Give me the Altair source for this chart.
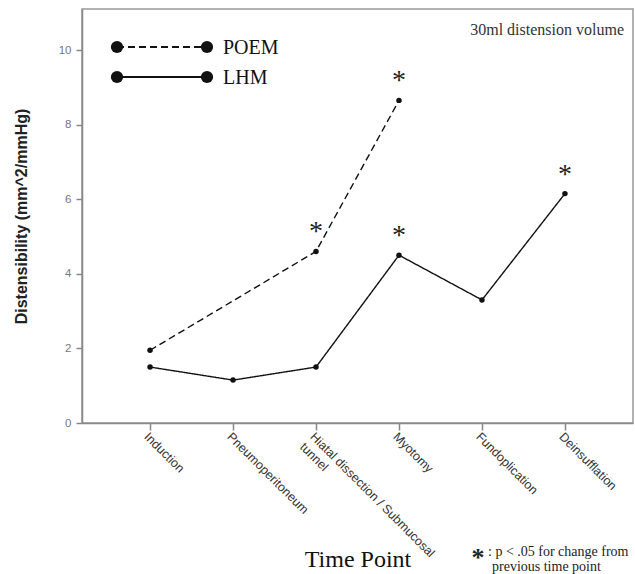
import altair as alt
import pandas as pd

# ---- data ----
time_points = ["Induction", "Pneumoperitoneum", "Hiatal dissection / Submucosal tunnel",
               "Myotomy", "Fundoplication", "Deinsufflation"]
poem_values = [1.95, None, 4.6, 8.65, None, None]
lhm_values = [1.5, 1.15, 1.5, 4.5, 3.3, 6.15]
poem_sig = [False, False, True, True, False, False]
lhm_sig = [False, False, False, True, False, True]
series_names = ["POEM", "LHM"]

rows = []
for name, vals, sig in [("POEM", poem_values, poem_sig), ("LHM", lhm_values, lhm_sig)]:
    for t, v, s in zip(time_points, vals, sig):
        if v is not None:
            rows.append({"time": t, "value": v, "series": name, "sig": s})
df = pd.DataFrame(rows)

SERIF = "Liberation Serif"
SANS = "Liberation Sans"

label_expr = ("datum.value == 'Hiatal dissection / Submucosal tunnel' ? "
              "['Hiatal dissection / Submucosal', 'tunnel'] : datum.value")

x_enc = alt.X("time:N", sort=time_points,
              scale=alt.Scale(type="point", padding=0.82),
              axis=alt.Axis(title="Time Point", labelAngle=45, labelAlign="left",
                            labelBaseline="top", labelExpr=label_expr,
                            labelFont=SANS, labelFontSize=12.5, labelColor="#333",
                            labelPadding=0, tickSize=7, tickColor="#888", domainColor="#888",
                            domainWidth=1.5, tickWidth=1.5,
                            titleFont=SERIF, titleFontSize=24, titleFontWeight="normal",
                            titleColor="#111", titleY=124, titleBaseline="top"))
y_enc = alt.Y("value:Q", scale=alt.Scale(domain=[0, 11.1], nice=False),
              axis=alt.Axis(title="Distensibility (mm^2/mmHg)", values=[0, 2, 4, 6, 8, 10],
                            grid=False, labelFont=SANS, labelFontSize=11.5, labelColor="#777",
                            tickSize=6, labelPadding=5, tickColor="#888", domainColor="#888",
                            domainWidth=1.5, tickWidth=1.5,
                            titleFont=SANS, titleFontSize=16, titleFontWeight="bold",
                            titleColor="#222", titlePadding=29))

base = alt.Chart(df).encode(x=x_enc, y=y_enc)

lines = base.mark_line(color="#111", strokeWidth=1.4).encode(
    strokeDash=alt.StrokeDash("series:N", scale=alt.Scale(domain=series_names,
                                                          range=[[7, 4], [1, 0]]), legend=None),
    detail="series:N")
points = base.mark_circle(color="#111", size=30, opacity=1)
stars = base.transform_filter("datum.sig").mark_text(
    text="*", font=SERIF, fontSize=28, color="#222", dy=-19, baseline="middle")

# manual legend (line with dots at both ends)
legend_layers = []
for name, ypix, dash in [("POEM", 38, [7, 4]), ("LHM", 68, [1, 0])]:
    ld = alt.Chart(pd.DataFrame({"series": [name]}))
    legend_layers.append(ld.mark_rule(color="#111", strokeWidth=2.2, strokeDash=dash).encode(
        x=alt.value(35), x2=alt.value(125), y=alt.value(ypix)))
    for xp in (35, 125):
        legend_layers.append(ld.mark_circle(color="#111", size=150, opacity=1).encode(
            x=alt.value(xp), y=alt.value(ypix)))
    legend_layers.append(ld.mark_text(font=SERIF, fontSize=20, align="left", baseline="middle",
                                      color="#111").encode(
        x=alt.value(141), y=alt.value(ypix + 1), text="series:N"))

notes = alt.Chart(pd.DataFrame({"t": ["30ml distension volume"]})).mark_text(
    font=SERIF, fontSize=16, align="right", baseline="middle", color="#333").encode(
    x=alt.value(542), y=alt.value(21), text="t:N")
foot_star = alt.Chart(pd.DataFrame({"t": ["*"]})).mark_text(
    font=SERIF, fontSize=26, fontWeight="bold", align="center", baseline="middle", color="#222").encode(
    x=alt.value(396), y=alt.value(549), text="t:N")
foot1 = alt.Chart(pd.DataFrame({"t": [": p < .05 for change from"]})).mark_text(
    font=SERIF, fontSize=14, align="left", baseline="middle", color="#222").encode(
    x=alt.value(406), y=alt.value(543), text="t:N")
foot2 = alt.Chart(pd.DataFrame({"t": ["previous time point"]})).mark_text(
    font=SERIF, fontSize=14, align="left", baseline="middle", color="#222").encode(
    x=alt.value(410), y=alt.value(558), text="t:N")

chart = alt.layer(lines, points, stars, *legend_layers, notes, foot_star, foot1, foot2).properties(
    width=551, height=414,
    padding={"left": 82, "top": 9, "right": 2, "bottom": 151},
    autosize="none",
    background="white",
).configure_view(stroke="#999", strokeWidth=1.5)

chart.save("out.html", embed_options={"renderer": "svg", "actions": False})
